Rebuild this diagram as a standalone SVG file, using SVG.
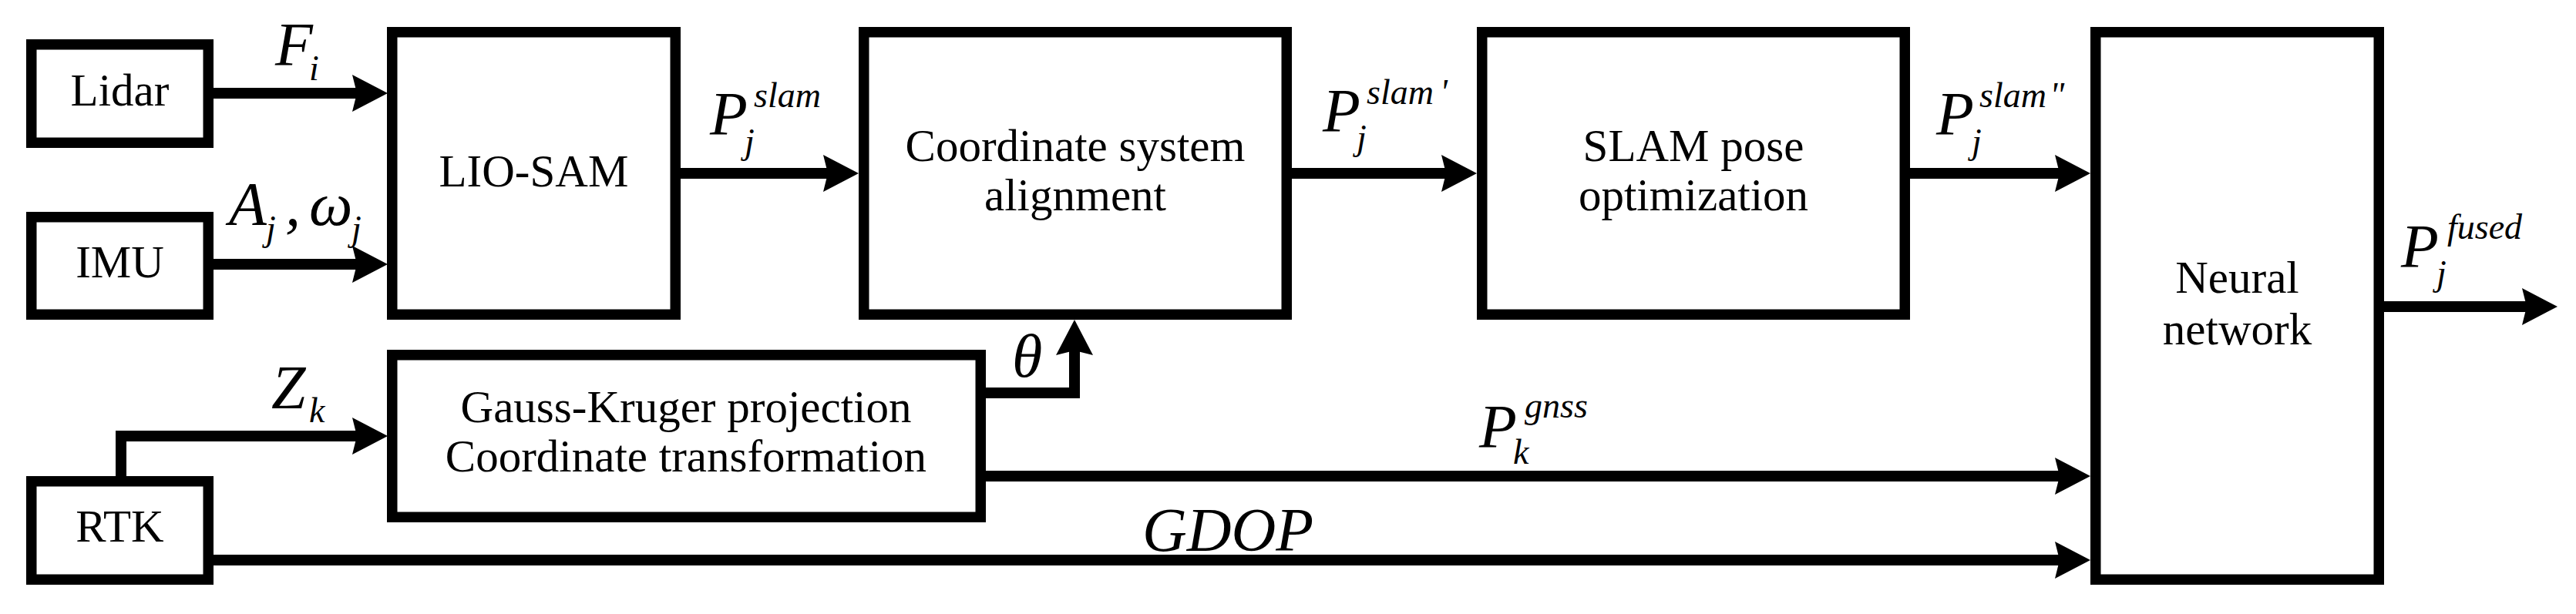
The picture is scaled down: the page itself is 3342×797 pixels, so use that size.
<svg xmlns="http://www.w3.org/2000/svg" width="3342" height="797" viewBox="0 0 3342 797">
<style>
.box{fill:#fff;stroke:#000;stroke-width:13.5}
text{font-family:'Liberation Serif','DejaVu Serif','Noto Serif',serif;fill:#000}
.lbl{font-size:59px;text-anchor:middle}
.math{font-style:italic;font-size:80px}
.s{font-size:46px}
.wire{fill:none;stroke:#000;stroke-width:14;stroke-linejoin:miter;marker-end:url(#ah)}
</style>
<defs>
<marker id="ah" markerUnits="userSpaceOnUse" orient="auto" refX="0" refY="0" markerWidth="1" markerHeight="1" overflow="visible">
<path d="M20,0 L-26,-24 L-20,0 L-26,24 Z" fill="#000"/>
</marker>
</defs>
<rect width="3342" height="797" fill="#fff"/>
<g id="connectors">
<path class="wire" d="M270,121 H483"/>
<path class="wire" d="M270,343 H483"/>
<path class="wire" d="M876,225 H1094"/>
<path class="wire" d="M1669,225 H1896"/>
<path class="wire" d="M2471,225 H2692"/>
<path class="wire" d="M3086,398 H3298"/>
<path class="wire" d="M157,625 V566 H483"/>
<path class="wire" d="M1272,510 H1394 V435"/>
<path class="wire" d="M1272,618 H2692"/>
<path class="wire" d="M270,727 H2692"/>
</g>
<g id="lidar"><rect class="box" x="40.75" y="57.75" width="229.5" height="127.5"/><text class="lbl" x="155.5" y="137">Lidar</text></g>
<g id="imu"><rect class="box" x="40.75" y="281.75" width="229.5" height="126.5"/><text class="lbl" x="155.5" y="360">IMU</text></g>
<g id="rtk"><rect class="box" x="40.75" y="624.75" width="229.5" height="127.5"/><text class="lbl" x="155.5" y="703">RTK</text></g>
<g id="liosam"><rect class="box" x="508.75" y="41.75" width="367.5" height="366.5"/><text class="lbl" x="692.5" y="242">LIO-SAM</text></g>
<g id="gauss"><rect class="box" x="508.75" y="460.75" width="763.5" height="210.5"/><text class="lbl" x="890" y="548">Gauss-Kruger projection</text><text class="lbl" x="890" y="612">Coordinate transformation</text></g>
<g id="align"><rect class="box" x="1120.75" y="41.75" width="548.5" height="366.5"/><text class="lbl" x="1395" y="209">Coordinate system</text><text class="lbl" x="1395" y="273">alignment</text></g>
<g id="slamopt"><rect class="box" x="1922.75" y="41.75" width="548.5" height="366.5"/><text class="lbl" x="2197" y="209">SLAM pose</text><text class="lbl" x="2197" y="273">optimization</text></g>
<g id="nn"><rect class="box" x="2718.75" y="41.75" width="367.5" height="710.5"/><text class="lbl" x="2902.5" y="380">Neural</text><text class="lbl" x="2902.5" y="447">network</text></g>
<g id="edge-labels">
<text class="math" x="357" y="85">F<tspan class="s" x="401" y="104">i</tspan></text>
<text class="math" x="297" y="292">A<tspan class="s" x="345" y="312">j</tspan><tspan x="370" y="292">,</tspan><tspan x="401" y="292">ω</tspan><tspan class="s" x="456" y="312">j</tspan></text>
<text class="math" x="921" y="175">P<tspan class="s" x="978" y="139">slam</tspan><tspan class="s" x="966" y="199">j</tspan></text>
<text class="math" x="1716" y="171">P<tspan class="s" x="1773" y="135">slam</tspan><tspan class="s" dx="8">'</tspan><tspan class="s" x="1760" y="194">j</tspan></text>
<text class="math" x="2512" y="175">P<tspan class="s" x="2568" y="139">slam</tspan><tspan class="s" dx="4">"</tspan><tspan class="s" x="2558" y="199">j</tspan></text>
<text class="math" x="3115" y="347">P<tspan class="s" x="3175" y="310">fused</tspan><tspan class="s" x="3161" y="370">j</tspan></text>
<text class="math" x="1919" y="581">P<tspan class="s" x="1978" y="542">gnss</tspan><tspan class="s" x="1963" y="602">k</tspan></text>
<text class="math" x="352" y="530">Z<tspan class="s" x="401" y="548">k</tspan></text>
<text class="math" x="1313" y="489">θ</text>
<text class="math" x="1482" y="715">GDOP</text>
</g>
</svg>
